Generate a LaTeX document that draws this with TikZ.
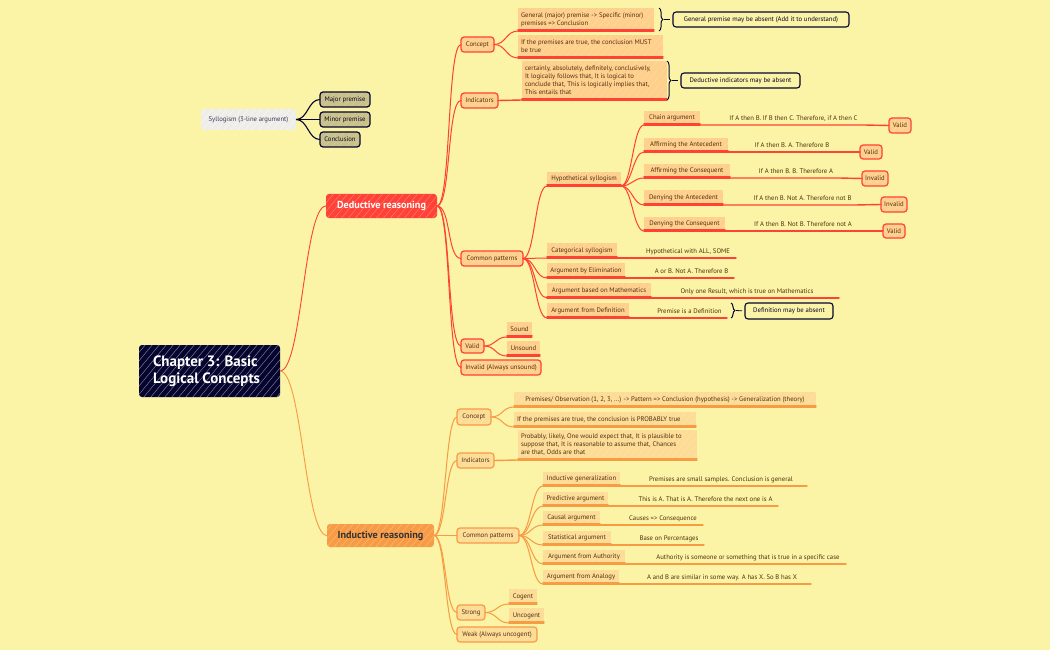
\documentclass[tikz,border=0pt]{standalone}
\usepackage{fontspec}
\setmainfont{PT Sans}
\usetikzlibrary{decorations.pathreplacing}
\definecolor{bgc}{HTML}{FBF3A5}
\definecolor{navy}{HTML}{05052F}
\definecolor{redl}{HTML}{FF4136}
\definecolor{oral}{HTML}{F79B45}
\definecolor{redf}{HTML}{FFCF8C}
\definecolor{oraf}{HTML}{FDDC96}
\definecolor{txt}{HTML}{52300F}
\definecolor{olive}{HTML}{C9C189}
\definecolor{grayf}{HTML}{EFEDE8}
\colorlet{lc}{redl}
\colorlet{bf}{redf}
\tikzset{
  hatch/.style={path picture={\foreach \i in {-170,-163,...,170}{\draw[#1]
    ([shift={(\i-25,30)}]path picture bounding box.center) -- ([shift={(\i+25,-30)}]path picture bounding box.center);}}},
  base/.style={inner sep=0pt,outer sep=0pt,font=\fontsize{6.7}{8}\selectfont,text=txt,align=center},
  boxed/.style={base,rounded corners=3pt,draw=lc,line width=1.2pt,fill=bf,hatch={white,opacity=.22,line width=.5pt}},
  under/.style={base,fill=bf,hatch={white,opacity=.22,line width=.5pt}},
  plain/.style={base},
  callout/.style={base,rounded corners=3pt,draw=navy,line width=1.1pt,text=navy},
  darkb/.style={base,rounded corners=3pt,draw=navy,line width=1.2pt,fill=olive,text=navy!85!black,hatch={white,opacity=.2,line width=.5pt}},
  sylb/.style={base,rounded corners=3pt,fill=grayf,text=navy!80,hatch={white,opacity=.6,line width=.5pt}},
  rootb/.style={base,rounded corners=3pt,fill=navy,text=white,font=\fontsize{15}{17}\selectfont\bfseries,hatch={white,opacity=.5,line width=.45pt}},
  mainb/.style={base,rounded corners=3pt,fill=#1,font=\fontsize{10.2}{12}\selectfont\bfseries,hatch={white,opacity=.3,line width=.5pt}},
  lnk/.style={draw=lc,line width=1pt,line cap=round},
  ulk/.style={draw=lc,line width=1.3pt,line cap=round},
  sl/.style={draw=lc,line width=1.4pt,line cap=round},
  cv/.style={out=0,in=180,distance=#1},
  brc/.style={draw=navy,line width=1pt,decorate,decoration={brace,amplitude=4pt}},
  stub/.style={draw=navy,line width=.8pt,shorten >=3pt}
}
\newcommand{\bx}[7]{\node[#2,minimum width={(#5-#3)*1pt},minimum height={(#6-#4)*1pt}] (#1) at ({(#3+#5)/2},{(#4+#6)/2}) {#7};}
\newcommand{\ub}[7]{\bx{#1}{under,#2}{#3}{#4}{#5}{#6}{#7}
  \draw[ulk] (#1.south west) -- (#1.south east);
  \draw[ulk] ([yshift=1.6pt]#1.south west) -- ([yshift=1.6pt]#1.south east);}
\newcommand{\snt}[5]{\node[plain,minimum width={(#3-#2)*1pt},minimum height=13pt,anchor=south] (#1) at ({(#2+#3)/2},#4) {\vphantom{Ag}#5};}
\begin{document}
\begin{tikzpicture}[x=1pt,y=-1pt]
\path[fill=bgc] (0,0) rectangle (1050,650);
\useasboundingbox (0,0) rectangle (1050,650);
% ---- root
\bx{root}{rootb}{139}{345}{280}{397}{\raisebox{-1pt}{\parbox{113pt}{\raggedright Chapter 3: Basic\\Logical Concepts}}}
\bx{ded}{mainb=redl,text=white}{326}{194}{437}{218}{\raisebox{-1pt}{Deductive reasoning}}
\bx{ind}{mainb=oral,text=black!80}{327}{524}{434}{547}{\raisebox{-1pt}{Inductive reasoning}}
\draw[draw=redl,line width=.9pt] (root.east) to[cv=22] (ded.west);
\draw[draw=oral,line width=.9pt] (root.east) to[cv=22] (ind.west);
% ---- syllogism
\bx{syl}{sylb}{201}{109}{296}{130}{Syllogism (3-line argument)}
\bx{maj}{darkb}{320}{92}{370}{107}{Major premise}
\bx{mnr}{darkb}{320}{112}{370}{127}{Minor premise}
\bx{con}{darkb}{320}{132}{360}{147}{Conclusion}
\foreach \t in {maj,mnr,con}{\draw[draw=navy,line width=1.1pt] (syl.east) to[cv=12] (\t.west);}
% ---- deductive
\colorlet{lc}{redl}\colorlet{bf}{redf}
\bx{dcon}{boxed}{461}{37}{494}{52}{Concept}
\bx{dind}{boxed}{461}{93}{498}{108}{Indicators}
\bx{dcom}{boxed}{461}{251}{523}{266}{Common patterns}
\bx{dval}{boxed}{461}{339}{484}{353}{Valid}
\bx{dinv}{boxed}{461}{360}{541}{375}{Invalid (Always unsound)}
\foreach \t in {dcon,dind,dcom,dval,dinv}{\draw[lnk] (ded.east) to[cv=14] (\t.west);}
\ub{dt1}{}{518}{8}{654}{31}{\parbox{130pt}{\raggedright General (major) premise -> Specific (minor)\\premises => Conclusion}}
\ub{dt2}{}{518}{35}{663}{58}{\parbox{139pt}{\raggedright If the premises are true, the conclusion MUST\\be true}}
\ub{dt3}{}{522}{61}{667}{100}{\parbox{139pt}{\raggedright certainly, absolutely, definitely, conclusively,\\It logically follows that, It is logical to\\conclude that, This is logically implies that,\\This entails that}}
\draw[lnk] (dcon.east) to[cv=12] (dt1.south west);
\draw[lnk] (dcon.east) to[cv=12] (dt2.south west);
\draw[sl] (dind.east) -- (dt3.south west);
\coordinate (b1t) at (659,8); \coordinate (b1b) at (659,31); \coordinate (b1m) at (664,19.5);
\coordinate (b2t) at (667,61); \coordinate (b2b) at (667,100); \coordinate (b2m) at (672,80.5);
\draw[brc] (b1t) -- (b1b);
\draw[brc] (b2t) -- (b2b);
\bx{cal1}{callout}{673}{12}{849}{27}{General premise may be absent (Add it to understand)}
\bx{cal2}{callout}{681}{73}{800}{88}{Deductive indicators may be absent}
\draw[stub] (b1m) -- (cal1.west);
\draw[stub] (b2m) -- (cal2.west);
% common patterns deductive
\ub{hyp}{}{547}{172}{621}{186}{Hypothetical syllogism}
\ub{cat}{}{547}{243}{617}{258}{Categorical syllogism}
\ub{eli}{}{547}{263}{625}{278}{Argument by Elimination}
\ub{mat}{}{547}{283}{651}{298}{Argument based on Mathematics}
\ub{dfn}{}{547}{303}{629}{318}{Argument from Definition}
\foreach \t in {hyp,cat,eli,mat,dfn}{\draw[lnk] (dcom.east) to[cv=12] (\t.south west);}
\ub{ch}{}{644}{111}{700}{125}{Chain argument}
\ub{aa}{}{644}{138}{728}{152}{Affirming the Antecedent}
\ub{ac}{}{644}{164}{730}{178}{Affirming the Consequent}
\ub{da}{}{644}{190}{723}{205}{Denying the Antecedent}
\ub{dc}{}{644}{217}{725}{231}{Denying the Consequent}
\foreach \t in {ch,aa,ac,da,dc}{\draw[lnk] (hyp.south east) to[cv=11] (\t.south west);}
\snt{s1}{723}{864}{125}{If A then B. If B then C. Therefore, if A then C}
\snt{s2}{752}{832}{152}{If A then B. A. Therefore B}
\snt{s3}{753}{839}{178}{If A then B. B. Therefore A}
\snt{s4}{750}{855}{205}{If A then B. Not A. Therefore not B}
\snt{s5}{750}{856}{231}{If A then B. Not B. Therefore not A}
\bx{v1}{boxed}{889}{118}{911}{133}{Valid}
\bx{v2}{boxed}{860}{145}{882}{159}{Valid}
\bx{v3}{boxed}{862}{171}{888}{186}{Invalid}
\bx{v4}{boxed}{881}{197}{907}{212}{Invalid}
\bx{v5}{boxed}{883}{224}{905}{238}{Valid}
\draw[sl] (ch.south east) -- (s1.south east) -- (v1.west);
\draw[sl] (aa.south east) -- (s2.south east) -- (v2.west);
\draw[sl] (ac.south east) -- (s3.south east) -- (v3.west);
\draw[sl] (da.south east) -- (s4.south east) -- (v4.west);
\draw[sl] (dc.south east) -- (s5.south east) -- (v5.west);
\snt{s6}{640}{736}{258}{Hypothetical with ALL, SOME}
\snt{s7}{649}{734}{278}{A or B. Not A. Therefore B}
\snt{s8}{655}{839}{298}{Only one Result, which is true on Mathematics}
\snt{s9}{652}{727}{318}{Premise is a Definition}
\draw[sl] (cat.south east) -- (s6.south east);
\draw[sl] (eli.south east) -- (s7.south east);
\draw[sl] (mat.south east) -- (s8.south east);
\draw[sl] (dfn.south east) -- (s9.south east);
\coordinate (b3t) at (731,303); \coordinate (b3b) at (731,318); \coordinate (b3m) at (736,310.5);
\draw[brc] (b3t) -- (b3b);
\bx{cal3}{callout}{745}{303}{833}{319}{Definition may be absent}
\draw[stub] (b3m) -- (cal3.west);
\ub{snd}{}{507}{322}{532}{337}{Sound}
\ub{uns}{}{507}{341}{540}{356}{Unsound}
\draw[lnk] (dval.east) to[cv=12] (snd.south west);
\draw[lnk] (dval.east) to[cv=12] (uns.south west);
% ---- inductive
\colorlet{lc}{oral}\colorlet{bf}{oraf}
\bx{icon}{boxed}{457}{409}{491}{425}{Concept}
\bx{iind}{boxed}{457}{453}{494}{468}{Indicators}
\bx{icom}{boxed}{457}{528}{519}{543}{Common patterns}
\bx{istr}{boxed}{457}{605}{485}{620}{Strong}
\bx{iwk}{boxed}{457}{627}{537}{642}{Weak (Always uncogent)}
\foreach \t in {icon,iind,icom,istr,iwk}{\draw[lnk] (ind.east) to[cv=12] (\t.west);}
\ub{it1}{}{514}{392}{816}{407}{Premises/ Observation (1, 2, 3, ...) -> Pattern => Conclusion (hypothesis) -> Generalization (theory)}
\ub{it2}{}{514}{412}{696}{427}{\parbox{176pt}{\raggedright If the premises are true, the conclusion is PROBABLY true}}
\ub{it3}{}{518}{430}{697}{460}{\parbox{173pt}{\raggedright Probably, likely, One would expect that, It is plausible to\\suppose that, It is reasonable to assume that, Chances\\are that, Odds are that}}
\draw[lnk] (icon.east) to[cv=12] (it1.south west);
\draw[lnk] (icon.east) to[cv=12] (it2.south west);
\draw[sl] (iind.east) -- (it3.south west);
\ub{g1}{}{543}{472}{620}{486}{Inductive generalization}
\ub{g2}{}{543}{492}{608}{506}{Predictive argument}
\ub{g3}{}{543}{511}{600}{525}{Causal argument}
\ub{g4}{}{543}{531}{611}{545}{Statistical argument}
\ub{g5}{}{543}{550}{625}{564}{Argument from Authority}
\ub{g6}{}{543}{570}{619}{584}{Argument from Analogy}
\foreach \t in {g1,g2,g3,g4,g5,g6}{\draw[lnk] (icom.east) to[cv=12] (\t.south west);}
\snt{t1}{635}{807}{486}{Premises are small samples. Conclusion is general}
\snt{t2}{633}{778}{506}{This is A. That is A. Therefore the next one is A}
\snt{t3}{623}{703}{525}{Causes => Consequence}
\snt{t4}{634}{704}{545}{Base on Percentages}
\snt{t5}{650}{846}{564}{Authority is someone or something that is true in a specific case}
\snt{t6}{633}{811}{584}{A and B are similar in some way. A has X. So B has X}
\draw[sl] (g1.south east) -- (t1.south east);
\draw[sl] (g2.south east) -- (t2.south east);
\draw[sl] (g3.south east) -- (t3.south east);
\draw[sl] (g4.south east) -- (t4.south east);
\draw[sl] (g5.south east) -- (t5.south east);
\draw[sl] (g6.south east) -- (t6.south east);
\ub{cog}{}{509}{589}{537}{604}{Cogent}
\ub{unc}{}{509}{608}{544}{623}{Uncogent}
\draw[lnk] (istr.east) to[cv=12] (cog.south west);
\draw[lnk] (istr.east) to[cv=12] (unc.south west);
\end{tikzpicture}
\end{document}
